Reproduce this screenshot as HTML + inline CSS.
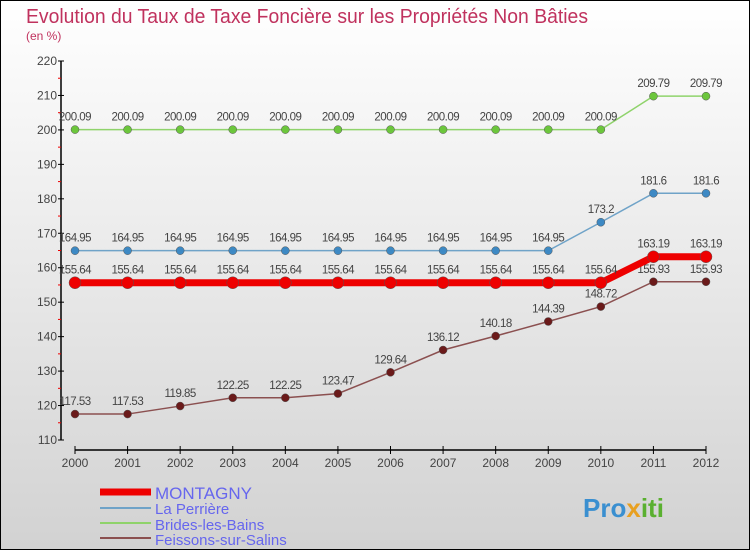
<!DOCTYPE html>
<html><head><meta charset="utf-8"><style>
body{margin:0;width:750px;height:550px;overflow:hidden;font-family:"Liberation Sans",sans-serif}
</style></head><body>
<svg width="750" height="550" xmlns="http://www.w3.org/2000/svg">
<defs><linearGradient id="bg" x1="0" y1="0" x2="0" y2="1"><stop offset="0" stop-color="#ffffff"/><stop offset="1" stop-color="#d2d2d2"/></linearGradient></defs>
<rect x="0.5" y="0.5" width="749" height="549" fill="url(#bg)" stroke="#000"/>
<text x="26" y="23" font-size="20" fill="#c0325e" textLength="562" lengthAdjust="spacingAndGlyphs">Evolution du Taux de Taxe Foncière sur les Propriétés Non Bâties</text>
<text x="26" y="40" font-size="12" fill="#c0325e">(en %)</text>
<g id="axes"></g>
<g id="series"></g>
<g>
<line x1="100" y1="492" x2="151" y2="492" stroke="#ee0000" stroke-width="7"/>
<text x="155" y="499" font-size="17" fill="#6666ee">MONTAGNY</text>
<line x1="100" y1="508" x2="151" y2="508" stroke="#6fa3c8" stroke-width="2"/>
<text x="155" y="514" font-size="15" fill="#6666ee">La Perrière</text>
<line x1="100" y1="523" x2="151" y2="523" stroke="#8fd36b" stroke-width="2"/>
<text x="155" y="530" font-size="15" fill="#6666ee">Brides-les-Bains</text>
<line x1="100" y1="538" x2="151" y2="538" stroke="#8b5050" stroke-width="2"/>
<text x="155" y="545" font-size="15" fill="#6666ee">Feissons-sur-Salins</text>
</g>
<text x="583" y="517" font-size="26" font-weight="bold" fill="#3a8fd0">Pro<tspan fill="#e8a020">x</tspan><tspan fill="#5ab030">iti</tspan></text>
</svg>
<script>
const years=[2000,2001,2002,2003,2004,2005,2006,2007,2008,2009,2010,2011,2012];
const yTicks=[110,120,130,140,150,160,170,180,190,200,210,220];
const montagny=[155.64,155.64,155.64,155.64,155.64,155.64,155.64,155.64,155.64,155.64,155.64,163.19,163.19];
const perriere=[164.95,164.95,164.95,164.95,164.95,164.95,164.95,164.95,164.95,164.95,173.2,181.6,181.6];
const brides=[200.09,200.09,200.09,200.09,200.09,200.09,200.09,200.09,200.09,200.09,200.09,209.79,209.79];
const feissons=[117.53,117.53,119.85,122.25,122.25,123.47,129.64,136.12,140.18,144.39,148.72,155.93,155.93];
const NS="http://www.w3.org/2000/svg";
const xs=i=>75+i*(706-75)/12;
const ys=v=>440-(v-110)*(440-61)/110;
function mk(t,a,p){const e=document.createElementNS(NS,t);for(const k in a)e.setAttribute(k,a[k]);p.appendChild(e);return e;}
const ax=document.getElementById('axes');
const yl=mk('line',{x1:61,y1:61,x2:61,y2:440,stroke:'#000','stroke-width':1.5},ax);


yTicks.forEach(v=>{
 mk('line',{x1:58,y1:ys(v),x2:64,y2:ys(v),stroke:'#000'},ax);
 if(v<220)mk('line',{x1:58,y1:ys(v+5),x2:61,y2:ys(v+5),stroke:'#e00'},ax);
 const t=mk('text',{x:57,y:ys(v)+4,'text-anchor':'end','font-size':12,fill:'#444'},ax);
 t.textContent=v;
 
 
});
const xl=mk('line',{x1:75,y1:450,x2:706,y2:450,stroke:'#000','stroke-width':1.5},ax);


years.forEach((y,i)=>{
 mk('line',{x1:xs(i),y1:446,x2:xs(i),y2:454,stroke:'#000'},ax);
 const t=mk('text',{x:xs(i),y:467,'text-anchor':'middle','font-size':12,fill:'#444'},ax);
 t.textContent=y;
 
 
});
const sg=document.getElementById('series');
function series(vals,color,w,r,dot,name){
 const g=mk('g',{},sg);
 
 
 mk('polyline',{points:vals.map((v,i)=>xs(i)+','+ys(v)).join(' '),fill:'none',stroke:color,'stroke-width':w},g);
 vals.forEach((v,i)=>{
  const c=mk('circle',{cx:xs(i),cy:ys(v),r:r,fill:dot,stroke:'#555','stroke-width':0.5},g);
  
  
  const t=mk('text',{x:xs(i),y:ys(v)-9,'text-anchor':'middle','font-size':11.5,fill:'#444','letter-spacing':'-0.5'},g);
  t.textContent=v;
  
  
 });
}
series(brides,'#8fd36b',1.5,4,'#6cc63c','brides-les-bains-series');
series(perriere,'#6fa3c8',1.5,4,'#3d89c4','la-perriere-series');
series(feissons,'#8b5050',1.5,4,'#6b1a1a','feissons-sur-salins-series');
series(montagny,'#ee0000',7,6,'#ee0000','montagny-series');
</script>
</body></html>
